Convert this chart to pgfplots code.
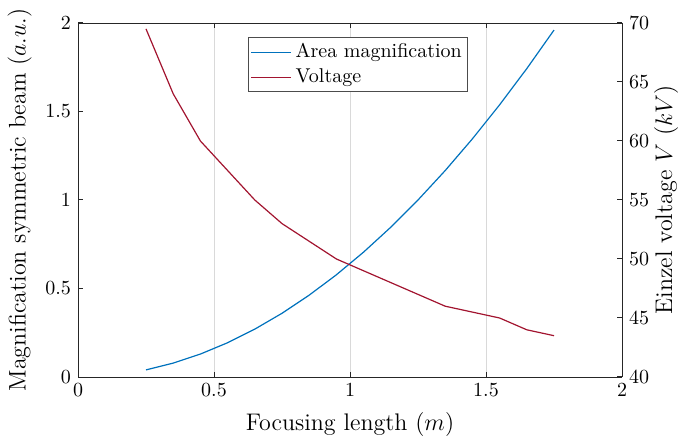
\documentclass[border=0pt]{standalone}
\usepackage{pgfplots}
\pgfplotsset{compat=1.18}
\definecolor{mblue}{rgb}{0,0.447,0.741}
\definecolor{mred}{rgb}{0.635,0.078,0.184}
\begin{document}
\begin{tikzpicture}
\begin{axis}[
  scale only axis, width=272pt, height=177pt,
  xmin=0, xmax=2, ymin=0, ymax=2,
  xtick={0,0.5,1,1.5,2}, ytick={0,0.5,1,1.5,2},
  axis y line*=left, axis x line*=box, xtick pos=both,
  axis line style={black!85}, tick style={black!85, line width=0.5pt},
  major tick length=2.5pt,
  xmajorgrids, grid style={black!15, line width=0.4pt},
  xlabel={Focusing length $(m)$},
  ylabel={Magnification symmetric beam $(a.u.)$},
  label style={font=\large},
  xlabel style={inner sep=0pt},
  xlabel shift=4pt,
  every axis plot/.append style={line width=0.6pt},
  legend style={at={(0.3125,0.96)}, anchor=north west, draw=black!70, inner sep=1pt, font=\normalsize, cells={anchor=west}},
  legend image code/.code={\draw[mark repeat=2,mark phase=2] plot coordinates {(0pt,0pt) (10pt,0pt) (20pt,0pt)};},
  legend cell align=left,
]
\addplot[mblue] coordinates {(0.25,0.04) (0.35,0.0784) (0.45,0.1296) (0.55,0.1936) (0.65,0.2704) (0.75,0.36) (0.85,0.4624) (0.95,0.5776) (1.05,0.7056) (1.15,0.8464) (1.25,1.0) (1.35,1.1664) (1.45,1.3456) (1.55,1.5376) (1.65,1.7424) (1.75,1.96)};
\addlegendentry{Area magnification}
\addlegendimage{mred, line width=0.6pt}
\addlegendentry{Voltage}
\coordinate (sw) at (rel axis cs:0,0);
\coordinate (ne) at (rel axis cs:1,1);
\end{axis}
\begin{axis}[
  scale only axis, width=272pt, height=177pt,
  xmin=0, xmax=2, ymin=40, ymax=70,
  axis y line*=right, axis x line=none,
  ytick={40,45,50,55,60,65,70},
  axis line style={black!85}, tick style={black!85, line width=0.5pt},
  major tick length=2.5pt,
  ylabel={Einzel voltage $V$ $(kV)$},
  label style={font=\large, inner sep=0pt},
  ylabel shift=-1pt,
]
\addplot[mred, line width=0.6pt] coordinates {(0.25,69.5) (0.35,64) (0.45,60) (0.55,57.5) (0.65,55) (0.75,53) (0.85,51.5) (0.95,50) (1.05,49) (1.15,48) (1.25,47) (1.35,46) (1.45,45.5) (1.55,45) (1.65,44) (1.75,43.5)};
\end{axis}
\path ([xshift=-39pt,yshift=-30pt]sw) rectangle ([xshift=30pt,yshift=11.5pt]ne);
\end{tikzpicture}
\end{document}
